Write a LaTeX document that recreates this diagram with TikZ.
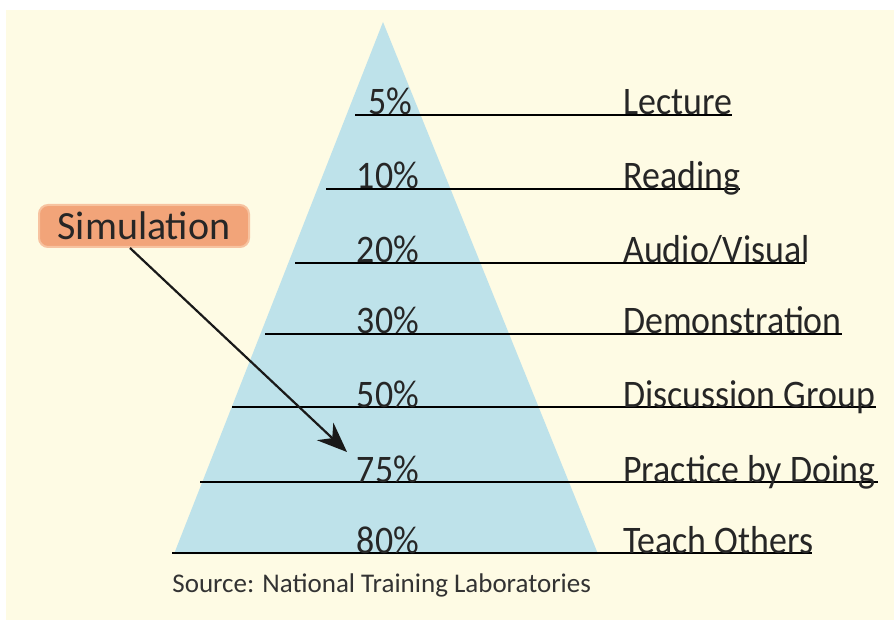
\documentclass[tikz,border=0pt]{standalone}
\usepackage{fontspec}
\setmainfont{Carlito}
\usetikzlibrary{arrows.meta, positioning}
\definecolor{cream}{HTML}{FEFBE4}
\definecolor{pyrblue}{HTML}{BEE2EA}
\definecolor{simorange}{HTML}{F2A479}
\definecolor{simedge}{HTML}{F7C3A0}

\begin{document}
\begin{tikzpicture}[x=1pt, y=-1pt, >=Stealth, thick]
    \useasboundingbox (0,0) rectangle (894,620);
    \fill[white] (0,0) rectangle (894,620);
    \fill[cream] (6,10) rectangle (894,620);
    % the pyramid
    \fill[pyrblue] (383,22) -- (598,554) -- (174,554) -- cycle;

    \tikzset{rate/.style={anchor=base, font=\fontsize{39}{39}\selectfont, inner sep=0pt, text=black!85, xscale=0.92},
             kind/.style={anchor=base west, font=\fontsize{39}{39}\selectfont, inner sep=0pt, text=black!85, xscale=0.92}}

    \draw[line width=1.8pt] (355,115) -- (732,115);
    \draw[line width=1.8pt] (326,189) -- (740,189);
    \draw[line width=1.8pt] (295,263) -- (805,263);
    \draw[line width=1.8pt] (265,334) -- (842,334);
    \draw[line width=1.8pt] (232,407) -- (876,407);
    \draw[line width=1.8pt] (200,482) -- (878,482);
    \draw[line width=1.8pt] (172,553) -- (812,553);

    \node[rate] (p5)  at (390,115) {5\%};
    \node[rate] (p10) at (388,189) {10\%};
    \node[rate] (p20) at (388,263) {20\%};
    \node[rate] (p30) at (388,334) {30\%};
    \node[rate] (p50) at (388,407) {50\%};
    \node[rate] (p75) at (388,482) {75\%};
    \node[rate] (p80) at (388,553) {80\%};

    \node[kind] (lecture) at (623,115) {Lecture};
    \node[kind] (reading) at (623,189) {Reading};
    \node[kind] (audio)   at (623,263) {Audio/Visual};
    \node[kind] (demo)    at (623,334) {Demonstration};
    \node[kind] (discuss) at (623,407) {Discussion Group};
    \node[kind] (practice) at (623,482) {Practice by Doing};
    \node[kind] (teach)   at (623,553) {Teach Others};

    \node[draw=simedge, line width=2pt, rounded corners=9pt, fill=simorange,
          minimum width=210pt, minimum height=42pt, inner sep=1pt, font=\fontsize{40}{40}\selectfont,
          text=black!85] (sim) at (144,226) {Simulation};
    \coordinate (target) at (347,452);
    \draw[line width=2.2pt, black!90, -{Stealth[length=30pt, width=24pt]}] ([xshift=-14pt]sim.south) -- (target);

    \node[anchor=base west, inner sep=0pt, font=\fontsize{27}{27}\selectfont, text=black!80]
        (source) at (172,592) {Source: National Training Laboratories};
\end{tikzpicture}
\end{document}
